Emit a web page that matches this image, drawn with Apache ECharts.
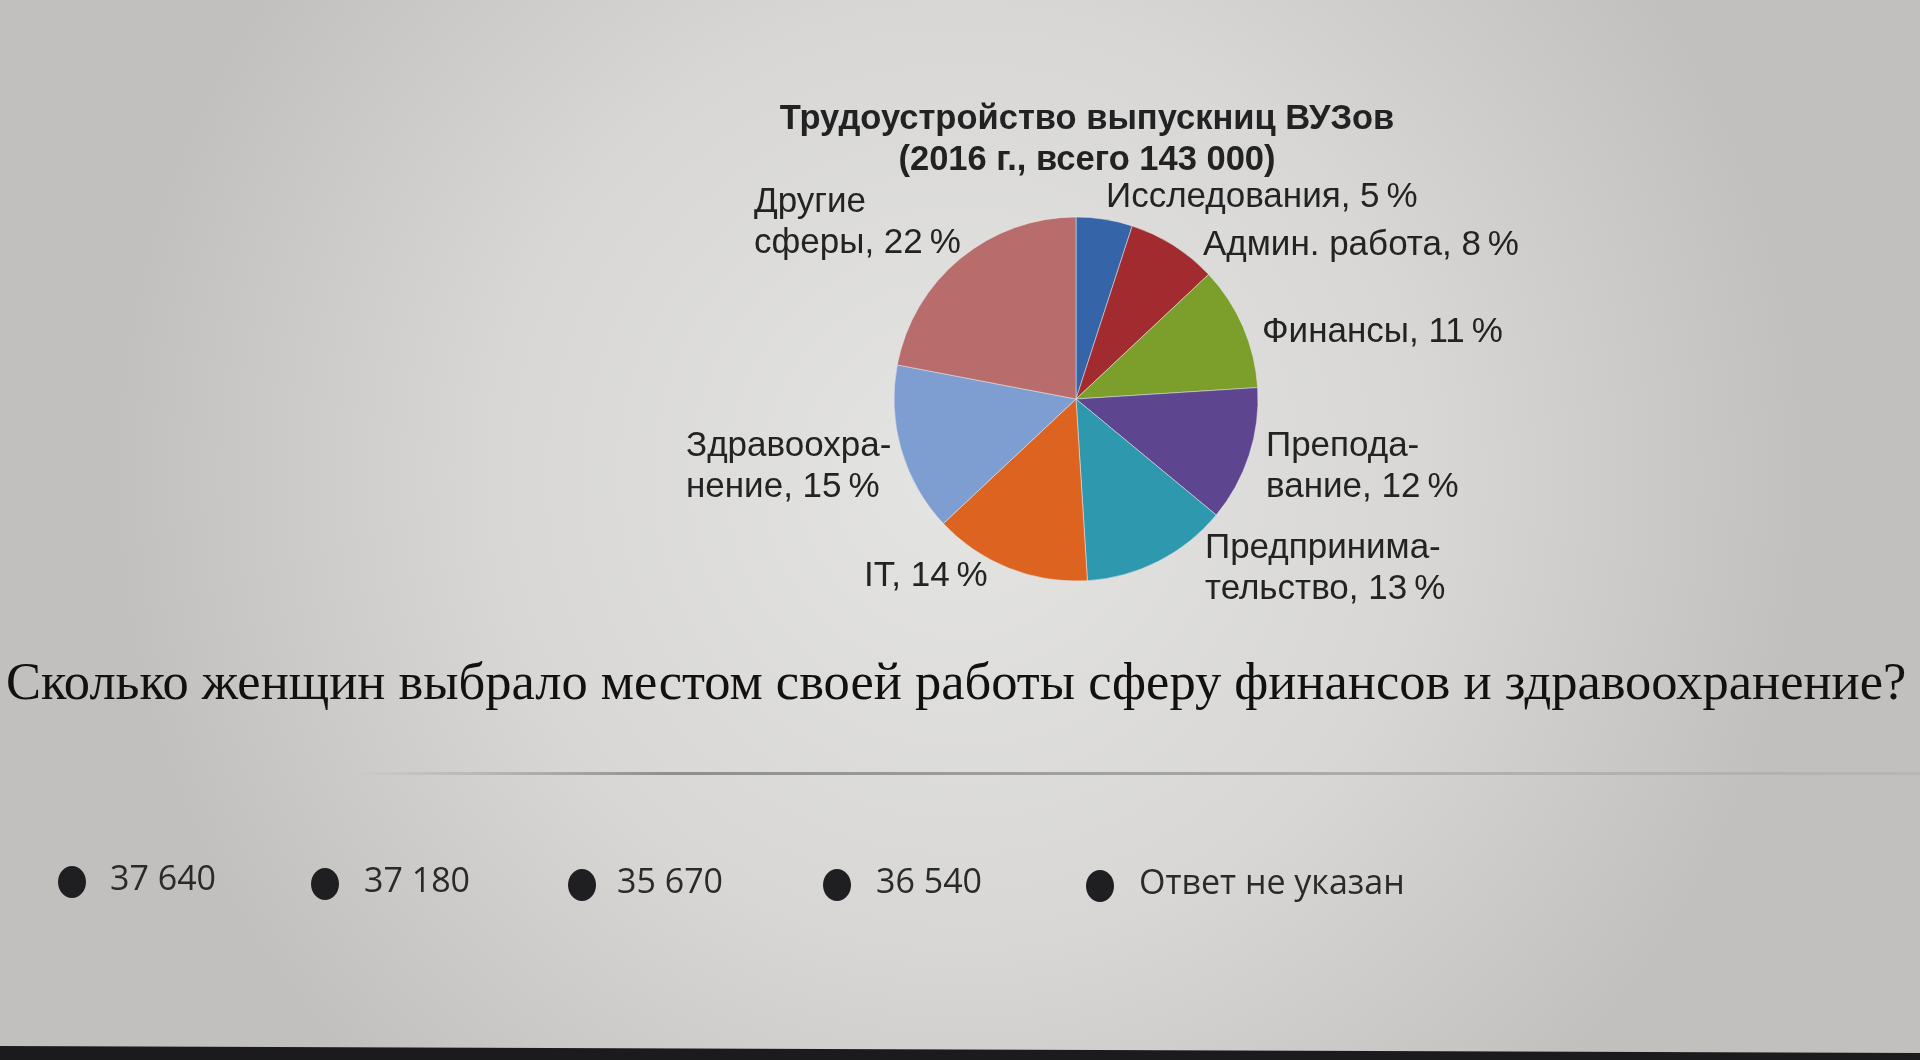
<!DOCTYPE html>
<html>
<head>
<meta charset="utf-8">
<script src="https://cdn.jsdelivr.net/npm/echarts@6/dist/echarts.min.js"></script>
<style>
html,body{margin:0;padding:0;width:1920px;height:1060px;overflow:hidden;background:#d6d5d4;}
#chart{width:1920px;height:1060px;}
</style>
</head>
<body>
<div id="chart"></div>
<script>
// ---- data ----
const categories = ['Исследования', 'Админ. работа', 'Финансы', 'Преподавание', 'Предпринимательство', 'IT', 'Здравоохранение', 'Другие сферы'];
const shares = [5, 8, 11, 12, 13, 14, 15, 22];
const labelTexts = ['Исследования, 5\u2009%', 'Админ. работа, 8\u2009%', 'Финансы, 11\u2009%', 'Препода-\nвание, 12\u2009%', 'Предпринима-\nтельство, 13\u2009%', 'IT, 14\u2009%', 'Здравоохра-\nнение, 15\u2009%', 'Другие\nсферы, 22\u2009%'];
const sliceColors = ['#3565a8', '#a12b2e', '#7c9e2a', '#5e4590', '#2e98ae', '#dc6420', '#7e9ed2', '#b86c6b'];
const titleText = 'Трудоустройство выпускниц ВУЗов\n(2016 г., всего 143 000)';
const questionText = 'Сколько женщин выбрало местом своей работы сферу финансов и здравоохранение?';
const answerOptions = ['37 640', '37 180', '35 670', '36 540', 'Ответ не указан'];

// ---- layout (not data) ----
const labelPos = [
  [1106, 197], [1203, 245], [1262, 332], [1266, 467],
  [1205, 569], [864, 576], [686, 467], [754, 223]
];
const bulletX = [72, 325, 582, 837, 1100];
const bulletY = [882, 884, 885, 885, 886];
const optTextX = [110, 364, 617, 876, 1139];

const chart = echarts.init(document.getElementById('chart'), null, {renderer: 'canvas'});

const graphics = [
  {
    type: 'rect', z: -10, silent: true,
    shape: {x: 0, y: 0, width: 1920, height: 1060},
    style: {
      fill: {
        type: 'radial', x: 0.5, y: 0.45, r: 0.8,
        colorStops: [
          {offset: 0, color: '#e4e4e3'},
          {offset: 0.55, color: '#d8d7d6'},
          {offset: 1, color: '#c2c0bf'}
        ]
      }
    }
  },
  {
    type: 'text', left: 6, top: 659,
    style: {
      text: questionText,
      font: '52.5px "Liberation Serif", "DejaVu Serif", serif',
      fill: '#111111'
    }
  },
  {
    type: 'rect', silent: true,
    shape: {x: 355, y: 772, width: 1565, height: 3},
    style: {
      fill: {
        type: 'linear', x: 0, y: 0, x2: 1, y2: 0,
        colorStops: [
          {offset: 0, color: 'rgba(120,120,120,0)'},
          {offset: 0.2, color: 'rgba(110,110,110,0.7)'},
          {offset: 0.55, color: 'rgba(130,130,130,0.6)'},
          {offset: 1, color: 'rgba(160,160,160,0.3)'}
        ]
      }
    }
  },
  {
    type: 'polygon', silent: true,
    shape: {points: [[0, 1046], [1920, 1053], [1920, 1060], [0, 1060]]},
    style: {fill: '#1b1b1d'}
  }
];

answerOptions.forEach((t, i) => {
  graphics.push({
    type: 'ellipse',
    shape: {cx: bulletX[i], cy: bulletY[i], rx: 14, ry: 16},
    style: {fill: '#1f1f22'}
  });
  graphics.push({
    type: 'text', x: optTextX[i], y: bulletY[i] - 2,
    style: {
      text: t,
      font: '34px "Open Sans", "Noto Sans", sans-serif',
      fill: '#2a2a2a',
      verticalAlign: 'middle'
    }
  });
});

chart.setOption({
  animation: false,
  title: {
    text: titleText,
    left: 1082, top: 94,
    textAlign: 'center',
    textStyle: {
      fontFamily: '"Liberation Sans", Arial, sans-serif',
      fontWeight: 'bold',
      fontSize: 34.5,
      lineHeight: 41,
      color: '#222'
    }
  },
  graphic: graphics,
  series: [{
    type: 'pie',
    center: [1076, 399],
    radius: 182,
    startAngle: 90,
    clockwise: true,
    avoidLabelOverlap: false,
    data: categories.map((c, i) => ({name: c, value: shares[i]})),
    color: sliceColors,
    itemStyle: {borderColor: 'rgba(235,235,235,0.5)', borderWidth: 1},
    label: {
      show: true,
      position: 'outside',
      formatter: (p) => labelTexts[p.dataIndex],
      fontFamily: '"Liberation Sans", Arial, sans-serif',
      fontSize: 35,
      lineHeight: 41,
      color: '#232323',
      align: 'left'
    },
    labelLine: {show: false},
    labelLayout: (params) => {
      const p = labelPos[params.dataIndex];
      return {x: p[0], y: p[1], align: 'left', verticalAlign: 'middle', hideOverlap: false};
    }
  }]
});
</script>
</body>
</html>
